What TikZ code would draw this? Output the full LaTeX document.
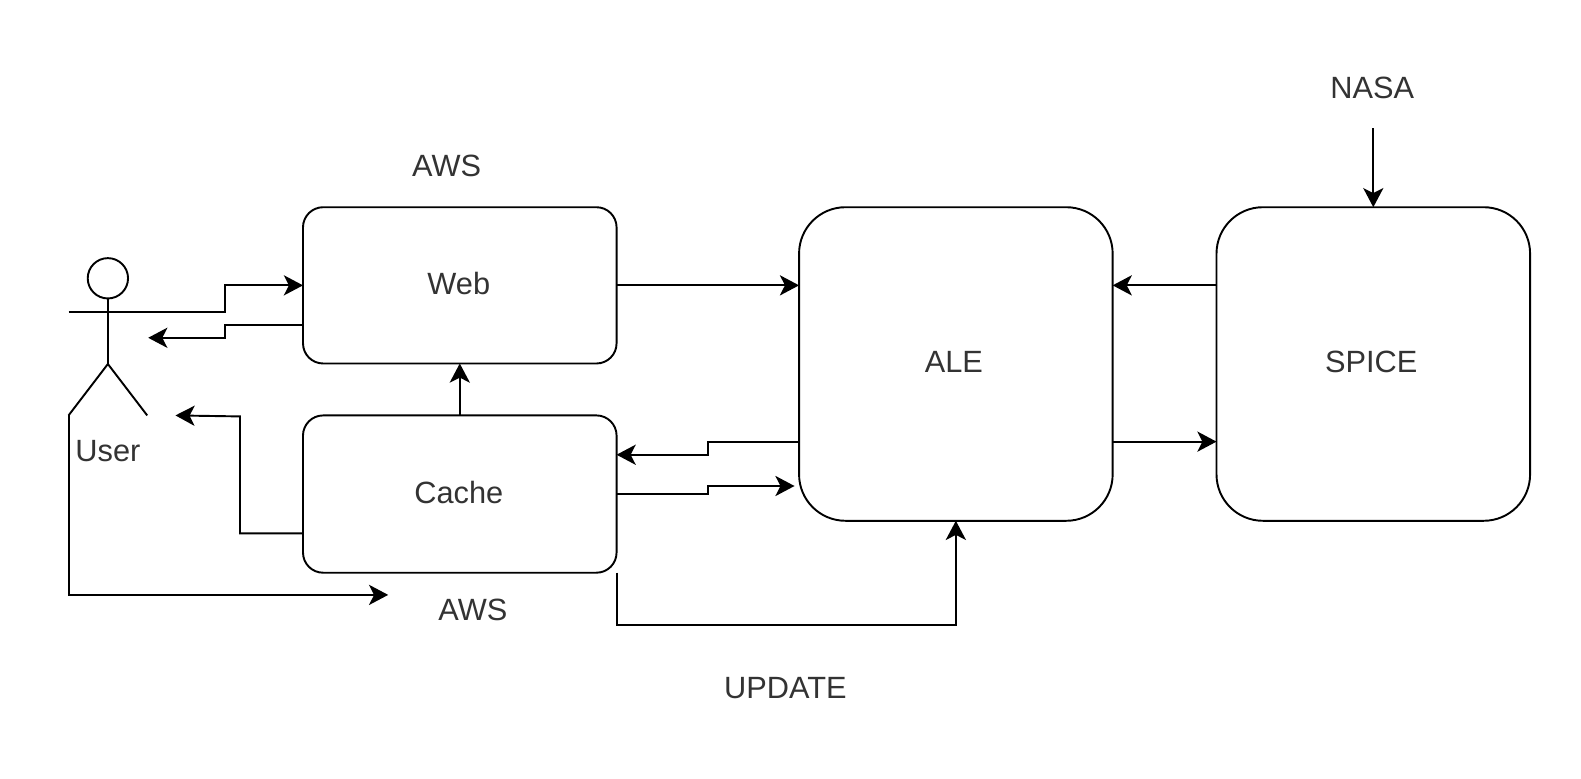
\documentclass[tikz,border=0pt]{standalone}
\usepackage{fontspec}
\setmainfont{Liberation Sans}
\usetikzlibrary{arrows.meta}
\definecolor{txt}{HTML}{333333}
\tikzset{
  box/.style={draw=black,line width=1.9pt,rounded corners=#1,inner sep=0pt,outer sep=0pt,anchor=north west,fill=white},
  lbl/.style={text=txt,font=\fontsize{30.5}{34}\selectfont,inner sep=0pt},
  conn/.style={draw=black,line width=1.9pt,-{Stealth[length=19pt,width=20pt,inset=5pt]}},
  plain/.style={draw=black,line width=1.9pt}
}
\begin{document}
\begin{tikzpicture}[x=1pt,y=-1pt]
\useasboundingbox (0,0) rectangle (1568,771.6);
\fill[white] (0,0) rectangle (1568,771.6);
\node[box=20pt,minimum width=311pt,minimum height=155pt] (web) at (300.5,205.5) {};
\node[box=20pt,minimum width=311pt,minimum height=156pt] (cache) at (300.5,412) {};
\node[box=46pt,minimum width=311pt,minimum height=311pt] (ale) at (792.5,205.5) {};
\node[box=46pt,minimum width=311pt,minimum height=311pt] (spice) at (1206.5,205.5) {};
\node[lbl] (tweb) at (455,281) {Web};
\node[lbl] (tcache) at (455,488) {Cache};
\node[lbl] (tale) at (946,358.5) {ALE};
\node[lbl] (tspice) at (1360,358.5) {SPICE};
\node[lbl] (taws1) at (443,165) {AWS};
\node[lbl] (taws2) at (469,605) {AWS};
\node[lbl] (tnasa) at (1361,87) {NASA};
\node[lbl] (tupd) at (779,682) {UPDATE};
\node[lbl] (tuser) at (107,447) {User};
% stick figure
\node[draw=black,line width=1.9pt,circle,minimum size=40pt,inner sep=0pt,outer sep=0pt] (head) at (107,276) {};
\coordinate (hipc) at (107,361);
\coordinate (armL) at (68,309);
\coordinate (armR) at (146,309);
\coordinate (legL) at (68,412);
\coordinate (legR) at (146,412);
\draw[plain] (head.south) -- (hipc);
\draw[plain] (armL) -- (armR);
\draw[plain,line join=round] (legL) -- (hipc) -- (legR);
% connectors
\coordinate (a1) at (223,309);
\coordinate (a2) at (223,283);
\draw[conn] (armR) -- (a1) -- (a2) -- (a2 -| web.west);
\coordinate (b0) at (301,322);
\coordinate (b1) at (223,322);
\coordinate (b2) at (223,335);
\coordinate (b3) at (147,335);
\draw[conn] (b0) -- (b1) -- (b2) -- (b3);
\draw[conn] (cache.north) -- (web.south);
\coordinate (c0) at (301,529);
\coordinate (c1) at (238,529);
\coordinate (c2) at (238,413);
\coordinate (c3) at (174,412);
\draw[conn] (c0) -- (c1) -- (c2) -- (c3);
\coordinate (d0) at (68,590);
\coordinate (d1) at (385,590);
\draw[conn] (legL) -- (d0) -- (d1);
\coordinate (e0) at (612,283);
\draw[conn] (e0) -- (e0 -| ale.west);
\coordinate (s0) at (1207,283);
\draw[conn] (s0) -- (s0 -| ale.east);
\coordinate (s1) at (1104,438);
\draw[conn] (s1) -- (s1 -| spice.west);
\coordinate (h0) at (793,438);
\coordinate (h1) at (702,438);
\coordinate (h2) at (702,451);
\draw[conn] (h0) -- (h1) -- (h2) -- (h2 -| cache.east);
\coordinate (i0) at (612,490);
\coordinate (i1) at (702,490);
\coordinate (i2) at (702,482);
\coordinate (i3) at (788,482);
\draw[conn] (i0) -- (i1) -- (i2) -- (i3);
\coordinate (f0) at (612,568);
\coordinate (f1) at (612,620);
\coordinate (f2) at (948,620);
\draw[conn] (f0) -- (f1) -- (f2) -- (f2 |- ale.south);
\coordinate (g0) at (1362,127);
\draw[conn] (spice.north |- g0) -- (spice.north);
\end{tikzpicture}
\end{document}
